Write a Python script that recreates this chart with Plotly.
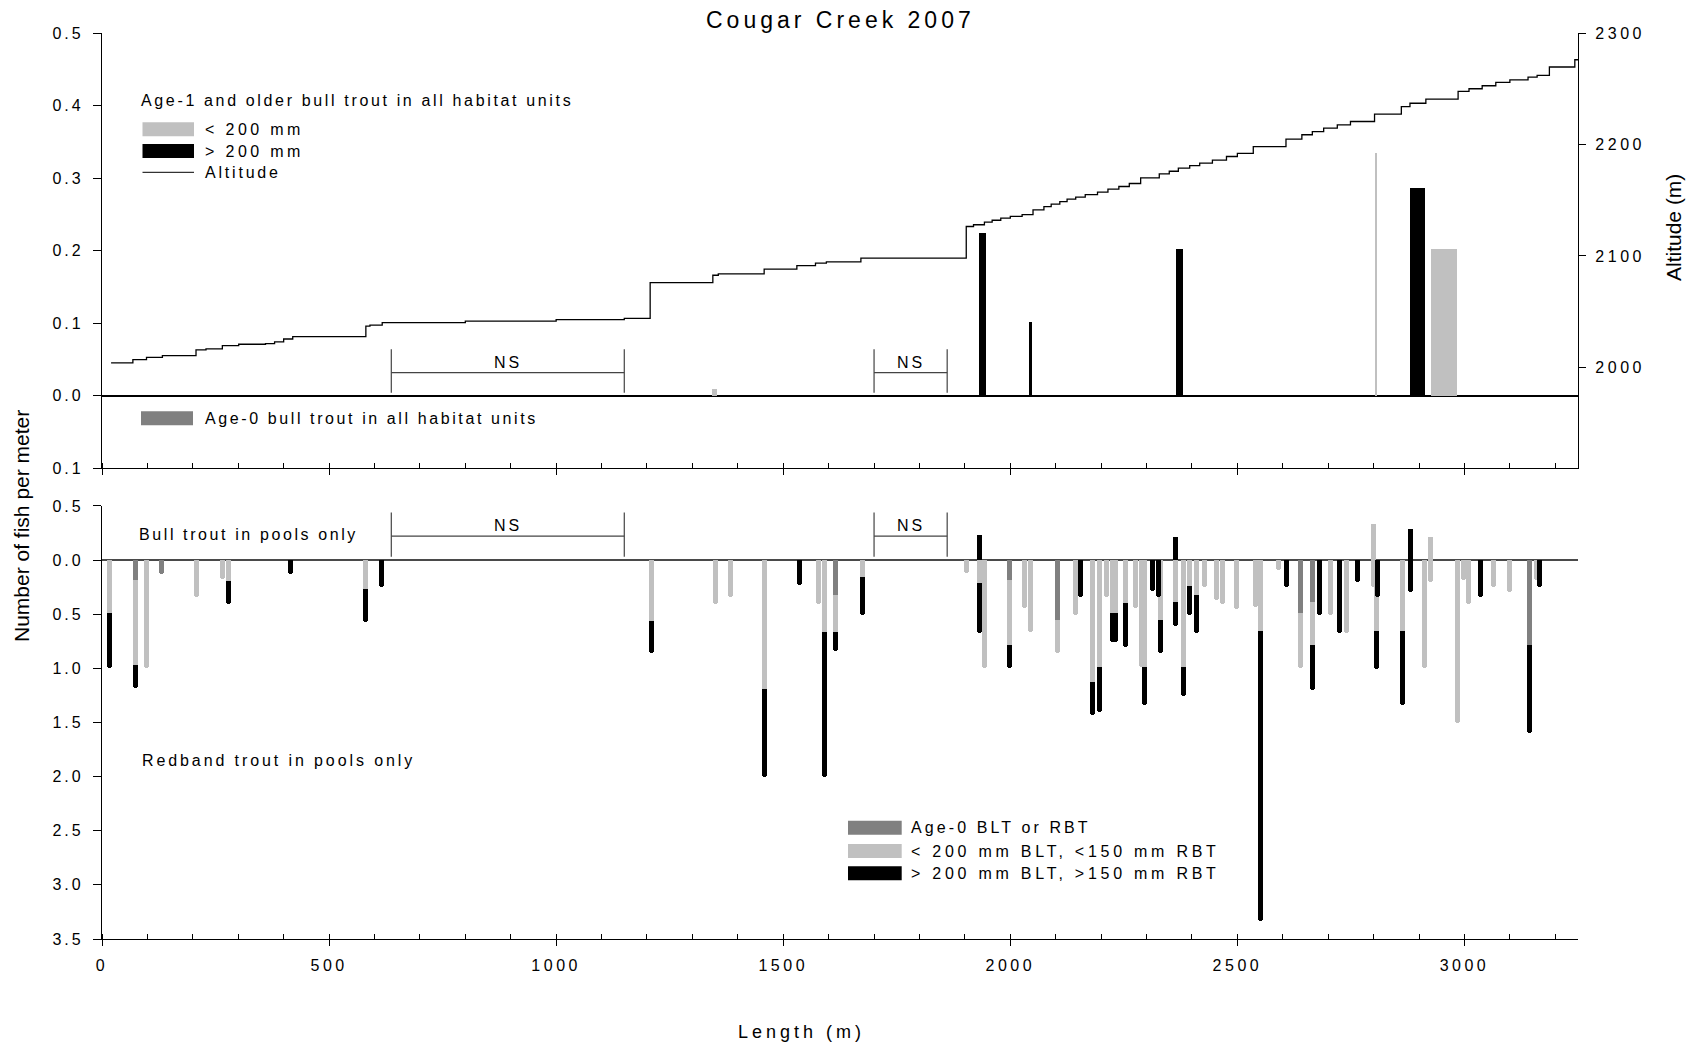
import plotly.graph_objects as go

# ---------------- data ----------------
# altitude profile along the creek (stream length m, altitude m), stepped
alt_len = [20, 68, 98, 133, 207, 229, 265, 301, 360, 380, 400, 420, 581, 590, 617, 800, 1000, 1150,
           1207, 1345, 1357, 1458, 1530, 1571, 1595, 1671, 1903, 1919, 1943, 1960, 1979, 2000, 2026,
           2050, 2074, 2090, 2109, 2125, 2144, 2165, 2192, 2215, 2239, 2262, 2287, 2328, 2350, 2370,
           2395, 2417, 2445, 2476, 2500, 2535, 2607, 2642, 2665, 2690, 2720, 2749, 2802, 2861, 2880,
           2915, 2986, 3010, 3039, 3069, 3100, 3140, 3160, 3187, 3243, 3250]
alt_m = [2004, 2007, 2009, 2010.6, 2015.7, 2016.6, 2019.6, 2020.8, 2021.4, 2023, 2025.5, 2027.7, 2037, 2038,
         2040.2, 2041.5, 2042.8, 2044, 2076, 2082.7, 2084, 2088.2, 2091.4, 2093.5, 2094.7, 2098, 2126.4,
         2128, 2130.3, 2132, 2134, 2135.5, 2137, 2141.4, 2144.3, 2146.5, 2148.8, 2151, 2152.8, 2155,
         2157.3, 2160, 2162.3, 2165, 2170, 2173.7, 2176, 2178.8, 2181, 2183.3, 2186, 2189.2, 2192,
         2198, 2204.8, 2208.7, 2211.5, 2214.7, 2217.5, 2220.6, 2227.3, 2234, 2237, 2240.7, 2247.6,
         2250, 2252.7, 2255.7, 2258, 2260.5, 2262, 2269.5, 2276, 2276]

# age-1 and older bull trout, all habitat units (position, density, unit length)
unit_small_pos = [1348, 2806, 2955]
unit_small_den = [0.009, 0.334, 0.202]
unit_small_len = [11, 4, 59]
unit_large_pos = [1938, 2044, 2372, 2897]
unit_large_den = [0.224, 0.101, 0.202, 0.2865]
unit_large_len = [15, 6, 15, 32]

# pools: redband trout (drawn downward)
pool_pos = [17, 73, 98, 132, 209, 265, 278, 416, 581, 616,
            1210, 1350, 1384, 1458, 1536, 1577, 1591, 1614, 1675,
            1904, 1932, 1944, 1999, 2031, 2044,
            2104, 2143, 2155, 2181, 2196, 2212, 2226, 2231, 2253, 2276, 2289, 2296, 2314, 2327,
            2331, 2364, 2381, 2394, 2411, 2428, 2453, 2468, 2498, 2540, 2550, 2590, 2609,
            2638, 2666, 2681, 2704, 2725, 2741, 2764, 2800, 2806, 2808, 2863, 2882, 2912, 2926,
            2984, 2998, 3009, 3036, 3064, 3099, 3143, 3158, 3165]
rbt_age0 = [0, 0.18, 0, 0.13, 0, 0, 0, 0, 0, 0,
            0, 0, 0, 0, 0, 0, 0, 0.32, 0,
            0, 0, 0, 0.185, 0, 0,
            0.554, 0, 0, 0, 0, 0, 0, 0, 0, 0, 0, 0, 0, 0,
            0, 0, 0, 0, 0, 0, 0, 0, 0, 0, 0, 0, 0,
            0.486, 0.39, 0, 0, 0, 0, 0, 0, 0, 0, 0, 0, 0, 0,
            0, 0, 0, 0, 0, 0, 0.785, 0, 0]
rbt_small = [0.49, 0.79, 1.0, 0, 0.34, 0.175, 0.19, 0, 0.27, 0,
             0.56, 0.405, 0.34, 1.19, 0, 0.405, 0.66, 0.34, 0.155,
             0.115, 0.215, 1.0, 0.6, 0.446, 0.668,
             0.30, 0.508, 0, 1.13, 0.99, 0.338, 0.486, 0.486, 0.394, 0.446, 0.99, 0.99, 0, 0,
             0.554, 0.39, 0.99, 0.24, 0.32, 0.252, 0.369, 0.406, 0.452, 0.437, 0.652, 0.092, 0,
             0.514, 0.395, 0, 0.508, 0, 0.67, 0, 0.25, 0.652, 0, 0.65, 0, 1.0, 0.206,
             1.5, 0.185, 0.406, 0, 0.252, 0.292, 0, 0.18, 0]
rbt_large = [0.51, 0.21, 0, 0, 0, 0, 0.215, 0.13, 0.305, 0.25,
             0.295, 0, 0, 0.81, 0.225, 0, 1.34, 0.18, 0.355,
             0, 0.455, 0, 0.215, 0, 0,
             0, 0, 0.338, 0.30, 0.41, 0, 0.268, 0.268, 0.406, 0, 0, 0.35, 0.286, 0.338,
             0.30, 0.22, 0.265, 0.27, 0.355, 0, 0, 0, 0, 0, 2.68, 0, 0.252,
             0, 0.415, 0.508, 0, 0.67, 0, 0.206, 0, 0.355, 0.338, 0.686, 0.292, 0, 0,
             0, 0, 0, 0.338, 0, 0, 0.815, 0, 0.252]

# pools: bull trout (drawn upward)
blt_pool_pos = [1932, 2364, 2800, 2882, 2926]
blt_small = [0, 0, 0.338, 0, 0.21]
blt_large = [0.23, 0.21, 0, 0.29, 0]

# reaches not sampled
ns_start = [637, 1700]
ns_end = [1150, 1861]

x_ticks = [0, 500, 1000, 1500, 2000, 2500, 3000]
x_labels = ['0', '500', '1000', '1500', '2000', '2500', '3000']
top_ticks = [-0.1, 0.0, 0.1, 0.2, 0.3, 0.4, 0.5]
top_labels = ['0.1', '0.0', '0.1', '0.2', '0.3', '0.4', '0.5']
bot_ticks = [0.5, 0.0, -0.5, -1.0, -1.5, -2.0, -2.5, -3.0, -3.5]
bot_labels = ['0.5', '0.0', '0.5', '1.0', '1.5', '2.0', '2.5', '3.0', '3.5']
alt_ticks = [2000, 2100, 2200, 2300]
alt_labels = ['2000', '2100', '2200', '2300']

# ---------------- styling helpers ----------------
LIGHT = '#c0c0c0'
DARK = '#808080'
BLACK = '#000000'
FONT = 'Liberation Sans, Arial, sans-serif'

PL, PR, PT, PB = 102, 1578, 33, 939


def xp(x):
    return (x - PL) / (PR - PL)


def yp(y):
    return (PB - y) / (PB - PT)


def sp(text, s):
    return f'<span style="letter-spacing:{s}px">{text}</span>'


fig = go.Figure()

# top panel bars
fig.add_trace(go.Bar(x=unit_small_pos, y=unit_small_den, width=unit_small_len,
                     marker=dict(color=LIGHT, line=dict(width=0)), xaxis='x', yaxis='y'))
fig.add_trace(go.Bar(x=unit_large_pos, y=unit_large_den, width=unit_large_len,
                     marker=dict(color=BLACK, line=dict(width=0)), xaxis='x', yaxis='y'))

# altitude line
fig.add_trace(go.Scatter(x=alt_len, y=alt_m, mode='lines', line=dict(color=BLACK, width=1.3, shape='hv'),
                         xaxis='x', yaxis='y3'))

# bottom panel: redband (negative, stacked away from zero)
POOL_W = 11
for vals, col in [(rbt_age0, DARK), (rbt_small, LIGHT), (rbt_large, BLACK)]:
    fig.add_trace(go.Bar(x=pool_pos, y=[-v for v in vals], width=POOL_W,
                         marker=dict(color=col, line=dict(width=0), cornerradius=3),
                         xaxis='x2', yaxis='y2'))
# bottom panel: bull trout (positive)
for vals, col in [(blt_small, LIGHT), (blt_large, BLACK)]:
    fig.add_trace(go.Bar(x=blt_pool_pos, y=vals, width=POOL_W,
                         marker=dict(color=col, line=dict(width=0), cornerradius=3),
                         xaxis='x2', yaxis='y2'))

shapes = []
annotations = []

# NS markers
for a, b in zip(ns_start, ns_end):
    for xr, yr, lo, hi, mid, ty in [('x', 'y', 0.004, 0.064, 0.032, 0.046),
                                    ('x2', 'y2', 0.03, 0.44, 0.22, 0.32)]:
        ln = dict(color='#444444', width=1.2)
        shapes.append(dict(type='line', xref=xr, yref=yr, x0=a, x1=a, y0=lo, y1=hi, line=ln))
        shapes.append(dict(type='line', xref=xr, yref=yr, x0=b, x1=b, y0=lo, y1=hi, line=ln))
        shapes.append(dict(type='line', xref=xr, yref=yr, x0=a, x1=b, y0=mid, y1=mid, line=ln))
        annotations.append(dict(xref=xr, yref=yr, x=(a + b) / 2, y=ty, text=sp('NS', 3),
                                showarrow=False, font=dict(size=16), xanchor='center', yanchor='middle'))


def swatch(x0, x1, yc, h, color):
    shapes.append(dict(type='rect', xref='paper', yref='paper', x0=xp(x0), x1=xp(x1),
                       y0=yp(yc + h / 2), y1=yp(yc - h / 2), fillcolor=color, line=dict(width=0)))


def label(x, y, text, spacing, size=16, anchor='left'):
    annotations.append(dict(xref='paper', yref='paper', x=xp(x), y=yp(y), text=sp(text, spacing),
                            showarrow=False, font=dict(size=size), xanchor=anchor, yanchor='middle'))


# top-left legend
label(139, 100, 'Age-1 and older bull trout in all habitat units', 2.65)
swatch(142.5, 194, 129.3, 14, LIGHT)
swatch(142.5, 194, 151, 14, BLACK)
shapes.append(dict(type='line', xref='paper', yref='paper', x0=xp(142.5), x1=xp(194),
                   y0=yp(172.3), y1=yp(172.3), line=dict(color=BLACK, width=1)))
label(203, 129.3, '&lt; 200 mm', 3.4)
label(203, 151, '&gt; 200 mm', 3.4)
label(203, 172.3, 'Altitude', 2.8)
swatch(141, 193, 418.3, 14, DARK)
label(203, 418.3, 'Age-0 bull trout in all habitat units', 2.6)

# bottom labels
label(137, 534.3, 'Bull trout in pools only', 2.6)
label(140, 760, 'Redband trout in pools only', 2.9)
swatch(848, 901.7, 827.7, 14, DARK)
swatch(848, 901.7, 851, 14, LIGHT)
swatch(848, 901.7, 873.3, 14, BLACK)
label(909, 827.7, 'Age-0 BLT or RBT', 3.1)
label(909, 851, '&lt; 200 mm BLT, &lt;150 mm RBT', 3.75)
label(909, 873.3, '&gt; 200 mm BLT, &gt;150 mm RBT', 3.75)

# title and axis titles
label(840, 20, 'Cougar Creek 2007', 4, size=23, anchor='center')
label(801, 1032, 'Length (m)', 4, size=18, anchor='center')
annotations.append(dict(xref='paper', yref='paper', x=xp(21), y=yp(526), text='Number of fish per meter',
                        textangle=-90, showarrow=False, font=dict(size=21), xanchor='center', yanchor='middle'))
annotations.append(dict(xref='paper', yref='paper', x=xp(1673), y=yp(228), text='Altitude (m)',
                        textangle=-90, showarrow=False, font=dict(size=21), xanchor='center', yanchor='middle'))

tick_font = dict(family=FONT, size=16, color=BLACK)
axis_common = dict(showline=True, linecolor=BLACK, linewidth=1.3, showgrid=False,
                   ticks='outside', tickcolor=BLACK, tickwidth=1.2, tickfont=tick_font)
x_common = dict(axis_common, range=[0, 3250], domain=[0, 1], ticklen=6, tickvals=x_ticks,
                zeroline=False,
                minor=dict(tickmode='linear', tick0=0, dtick=100, ticks='inside', ticklen=5,
                           tickcolor=BLACK, tickwidth=1.2, showgrid=False))

fig.update_layout(
    width=1694, height=1047,
    margin=dict(l=PL, r=1694 - PR, t=PT, b=1047 - PB),
    paper_bgcolor='white', plot_bgcolor='white',
    barmode='relative', bargap=0, showlegend=False,
    font=dict(family=FONT, size=16, color=BLACK),
    xaxis=dict(x_common, anchor='y', showticklabels=False),
    xaxis2=dict(x_common, anchor='y2', ticktext=[sp(t, 3.5) for t in x_labels], ticklabelstandoff=6),
    yaxis=dict(axis_common, domain=[yp(468.3), 1], range=[-0.1, 0.5], anchor='x', ticklen=8,
               tickvals=top_ticks, ticktext=[sp(t, 3) for t in top_labels], ticklabelstandoff=6,
               zeroline=True, zerolinecolor=BLACK, zerolinewidth=1.6),
    yaxis2=dict(axis_common, domain=[0, yp(505.9)], range=[-3.5, 0.5], anchor='x2', ticklen=8,
                tickvals=bot_ticks, ticktext=[sp(t, 3) for t in bot_labels], ticklabelstandoff=6,
                zeroline=True, zerolinecolor='#4a4a4a', zerolinewidth=2),
    yaxis3=dict(axis_common, overlaying='y', side='right', anchor='x', range=[1909.5, 2300], ticklen=7,
                tickvals=alt_ticks, ticktext=[sp(t, 3.5) for t in alt_labels], ticklabelstandoff=6,
                zeroline=False),
    shapes=shapes,
    annotations=annotations,
)

# page body has a default 8px margin; remove it so the figure sits at the window origin
fig.write_html("out.html", config={'displayModeBar': False},
               post_script="document.body.style.margin='0';")
